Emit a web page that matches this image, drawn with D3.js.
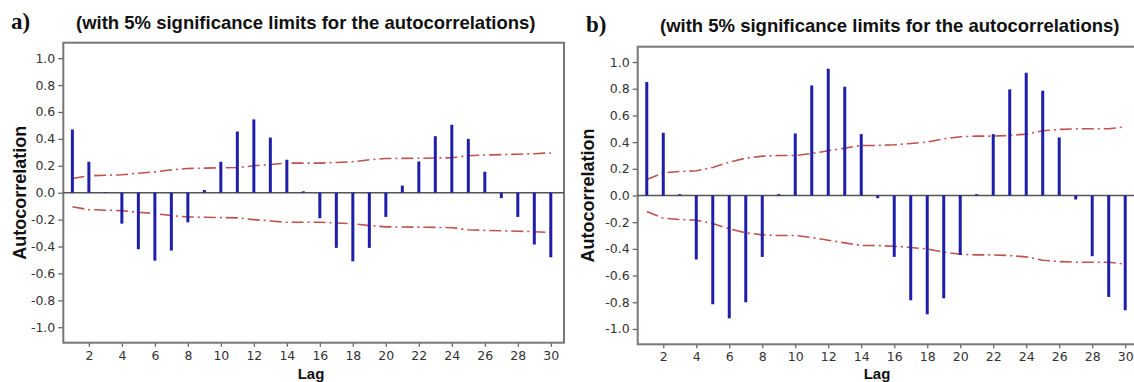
<!DOCTYPE html>
<html>
<head>
<meta charset="utf-8">
<title>ACF</title>
<script src="https://cdn.jsdelivr.net/npm/d3@7/dist/d3.min.js"></script>
<style>
body { margin: 0; background: #fff; }
.tick text { font-family: "DejaVu Sans", sans-serif; font-size: 12.5px; fill: #333; }
.tick line { stroke: #666; stroke-width: 1.3; }
.frame { fill: none; stroke: #777; stroke-width: 2; }
.zero { stroke: #555; stroke-width: 1.5; }
.bar { stroke: #1e1eaa; stroke-width: 3; }
.lim { fill: none; stroke: #c0524e; stroke-width: 1.6; stroke-dasharray: 12,4,2,4; }
.title { font-family: "Liberation Sans", Arial, sans-serif; font-weight: bold; font-size: 18.5px; fill: #111; }
.tag { font-family: "Liberation Serif", serif; font-weight: bold; font-size: 23px; fill: #111; }
.ylab { font-family: "Liberation Sans", Arial, sans-serif; font-weight: bold; font-size: 18px; fill: #111; }
.xlab { font-family: "Liberation Sans", Arial, sans-serif; font-weight: bold; font-size: 15px; fill: #111; }
</style>
</head>
<body>
<svg width="1134" height="382"></svg>
<script>
// lags and tick values
var lags = [1,2,3,4,5,6,7,8,9,10,11,12,13,14,15,16,17,18,19,20,21,22,23,24,25,26,27,28,29,30];
var xTicks = [2,4,6,8,10,12,14,16,18,20,22,24,26,28,30];
var yTicks = [-1.0,-0.8,-0.6,-0.4,-0.2,0.0,0.2,0.4,0.6,0.8,1.0];

// panel a) autocorrelations and 5% limits
var acfA = [0.47,0.23,0.005,-0.23,-0.42,-0.505,-0.43,-0.22,0.02,0.23,
            0.455,0.545,0.41,0.245,0.01,-0.19,-0.41,-0.51,-0.41,-0.18,
            0.053,0.232,0.42,0.505,0.40,0.156,-0.04,-0.18,-0.385,-0.48];
var limA = [0.105,0.126,0.13,0.133,0.145,0.155,0.17,0.18,0.183,0.185,
            0.187,0.2,0.21,0.22,0.22,0.22,0.225,0.23,0.245,0.254,
            0.255,0.256,0.258,0.26,0.275,0.28,0.283,0.286,0.29,0.296];

// panel b)
var acfB = [0.85,0.47,0.01,-0.48,-0.815,-0.92,-0.80,-0.46,0.01,0.465,
            0.825,0.95,0.815,0.46,-0.02,-0.46,-0.785,-0.89,-0.77,-0.445,
            0.01,0.46,0.795,0.92,0.785,0.435,-0.03,-0.455,-0.76,-0.86];
var limB = [0.12,0.17,0.18,0.185,0.21,0.25,0.28,0.295,0.30,0.30,
            0.315,0.335,0.355,0.375,0.375,0.38,0.39,0.40,0.425,0.44,
            0.445,0.445,0.45,0.46,0.485,0.495,0.50,0.50,0.50,0.515];

var title = "(with 5% significance limits for the autocorrelations)";

var svg = d3.select("svg");

function panel(o) {
  var x = d3.scaleLinear().domain([0.45, 30.8]).range([o.left, o.left + 500.7]);
  var y = d3.scaleLinear().domain([-1.115, 1.115]).range([o.bottom, o.top]);
  var g = svg.append("g");

  g.append("text").attr("class", "tag").attr("x", o.tagX).attr("y", o.tagY).text(o.tag);
  g.append("text").attr("class", "title").attr("x", o.titleX).attr("y", o.titleY).text(title);

  g.append("g")
    .attr("transform", "translate(" + o.left + ",0)")
    .call(d3.axisLeft(y).tickValues(yTicks).tickSize(5).tickPadding(3)
      .tickFormat(function(d) { return d.toFixed(1); }))
    .call(function(a) { a.select(".domain").remove(); });

  g.append("g")
    .attr("transform", "translate(0," + o.bottom + ")")
    .call(d3.axisBottom(x).tickValues(xTicks).tickSize(4).tickPadding(4)
      .tickFormat(d3.format("d")))
    .call(function(a) { a.select(".domain").remove(); });

  g.append("rect").attr("class", "frame")
    .attr("x", o.left).attr("y", o.top)
    .attr("width", x.range()[1] - o.left).attr("height", o.bottom - o.top);

  g.append("line").attr("class", "zero")
    .attr("x1", o.left).attr("x2", x.range()[1])
    .attr("y1", y(0)).attr("y2", y(0));

  var line = d3.line().x(function(d, i) { return x(lags[i]); }).y(function(d) { return y(d); });
  g.append("path").attr("class", "lim").attr("d", line(o.lim));
  g.append("path").attr("class", "lim").attr("d", line(o.lim.map(function(v) { return -v; })));

  g.selectAll(".bar")
    .data(o.acf)
    .enter().append("line")
      .attr("class", "bar")
      .attr("x1", function(d, i) { return x(lags[i]); })
      .attr("x2", function(d, i) { return x(lags[i]); })
      .attr("y1", y(0))
      .attr("y2", function(d) { return y(d); });

  g.append("text").attr("class", "ylab")
    .attr("transform", "translate(" + o.ylabX + "," + ((o.top + o.bottom) / 2) + ") rotate(-90)")
    .attr("text-anchor", "middle").attr("dy", "0.35em")
    .text("Autocorrelation");

  g.append("text").attr("class", "xlab")
    .attr("x", o.xlabX).attr("y", 379).attr("text-anchor", "middle")
    .text("Lag");
}

panel({tag: "a)", tagX: 11, tagY: 29, titleX: 76, titleY: 29,
       left: 63.3, top: 42.7, bottom: 342.7, ylabX: 20, xlabX: 311,
       acf: acfA, lim: limA});
panel({tag: "b)", tagX: 586, tagY: 32, titleX: 660, titleY: 32,
       left: 637.7, top: 46.7, bottom: 344.3, ylabX: 588, xlabX: 877,
       acf: acfB, lim: limB});
</script>
</body>
</html>
